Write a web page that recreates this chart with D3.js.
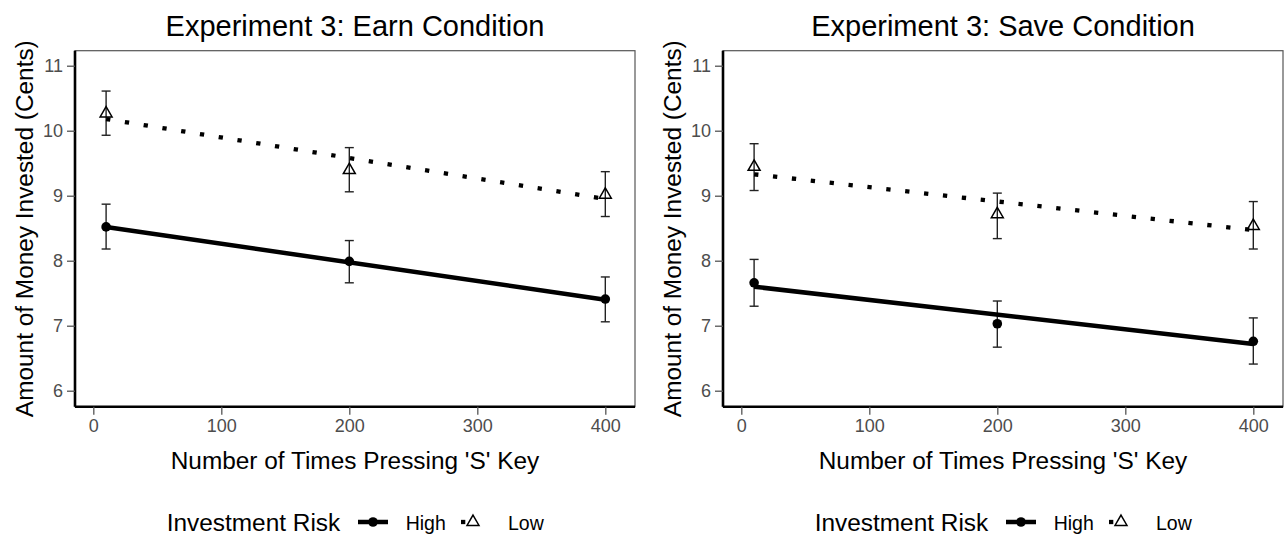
<!DOCTYPE html>
<html lang="en">
<head>
<meta charset="UTF-8">
<title>Experiment 3</title>
<script src="https://d3js.org/d3.v7.min.js"></script>
<style>
    body { margin: 0; background: #fff; }
    svg { display: block; font-family: 'Liberation Sans', Arial, sans-serif; }
    .tick text { fill: #4d4d4d; }
</style>
</head>
<body>
<svg id="chart" width="1284" height="535"></svg>
<script>
// ---- data ----
var xLevels = [10, 200, 400];
var fitX = [10, 400];
var xTicks = [0, 100, 200, 300, 400];
var yTicks = [6, 7, 8, 9, 10, 11];
var titles = ["Experiment 3: Earn Condition", "Experiment 3: Save Condition"];
var riskLevels = ["High", "Low"];

var earnHighMean = [8.52, 7.99, 7.41];
var earnHighLo   = [8.18, 7.66, 7.06];
var earnHighHi   = [8.87, 8.31, 7.75];
var earnLowMean  = [10.28, 9.41, 9.03];
var earnLowLo    = [9.93, 9.06, 8.68];
var earnLowHi    = [10.61, 9.74, 9.37];
var earnHighFit  = [8.52, 7.40];
var earnLowFit   = [10.18, 8.95];

var saveHighMean = [7.66, 7.03, 6.76];
var saveHighLo   = [7.30, 6.67, 6.41];
var saveHighHi   = [8.02, 7.38, 7.12];
var saveLowMean  = [9.46, 8.73, 8.55];
var saveLowLo    = [9.08, 8.34, 8.18];
var saveLowHi    = [9.80, 9.04, 8.91];
var saveHighFit  = [7.60, 6.72];
var saveLowFit   = [9.33, 8.47];

var panels = [
    { title: titles[0], dx: 0,
      high: { mean: earnHighMean, lo: earnHighLo, hi: earnHighHi, fit: earnHighFit },
      low:  { mean: earnLowMean,  lo: earnLowLo,  hi: earnLowHi,  fit: earnLowFit } },
    { title: titles[1], dx: 648,
      high: { mean: saveHighMean, lo: saveHighLo, hi: saveHighHi, fit: saveHighFit },
      low:  { mean: saveLowMean,  lo: saveLowLo,  hi: saveLowHi,  fit: saveLowFit } }
];

var svg = d3.select("#chart");

// panel box (pixels of the left panel, the right one is shifted)
var pLeft = 75, pRight = 635, pTop = 50.7, pBottom = 406.7;

var x = d3.scaleLinear().domain([-14.3, 423.2]).range([pLeft, pRight]);
var y = d3.scaleLinear().domain([5.754, 11.231]).range([pBottom, pTop]);

var triangle = d3.symbol().type(d3.symbolTriangle).size(62);
var dotted = "4.3,14.7";

function drawPanel(p) {
    var g = svg.append("g").attr("transform", "translate(" + p.dx + ",0)");

    // border (grey) on top/right
    g.append("rect")
        .attr("x", pLeft).attr("y", pTop)
        .attr("width", pRight - pLeft).attr("height", pBottom - pTop)
        .attr("fill", "none").attr("stroke", "#555").attr("stroke-width", 1.2);

    // axes
    var yAxis = d3.axisLeft(y).tickValues(yTicks).tickFormat(d3.format("d")).tickSize(8).tickPadding(4);
    var gy = g.append("g").attr("transform", "translate(" + pLeft + ",0)").call(yAxis);
    var xAxis = d3.axisBottom(x).tickValues(xTicks).tickFormat(d3.format("d")).tickSize(8).tickPadding(5);
    var gx = g.append("g").attr("transform", "translate(0," + pBottom + ")").call(xAxis);
    [gx, gy].forEach(function(a) {
        a.select(".domain").attr("stroke", "#000").attr("stroke-width", 2.6);
        a.selectAll(".tick line").attr("stroke", "#555").attr("stroke-width", 1.3);
        a.selectAll(".tick text").attr("font-size", "18px").attr("font-family", "'Liberation Sans', Arial, sans-serif");
    });
    gy.select(".domain").attr("d", "M0," + pBottom + "V" + pTop);
    gx.select(".domain").attr("d", "M" + pLeft + ",0H" + pRight);

    // error bars
    [p.high, p.low].forEach(function(s) {
        var eb = g.append("g").selectAll("g").data(xLevels).enter().append("g")
            .attr("stroke", "#222").attr("stroke-width", 1.4);
        eb.append("line")
            .attr("x1", function(d) { return x(d); }).attr("x2", function(d) { return x(d); })
            .attr("y1", function(d, i) { return y(s.lo[i]); })
            .attr("y2", function(d, i) { return y(s.hi[i]); });
        eb.append("line")
            .attr("x1", function(d) { return x(d) - 4.5; }).attr("x2", function(d) { return x(d) + 4.5; })
            .attr("y1", function(d, i) { return y(s.hi[i]); }).attr("y2", function(d, i) { return y(s.hi[i]); });
        eb.append("line")
            .attr("x1", function(d) { return x(d) - 4.5; }).attr("x2", function(d) { return x(d) + 4.5; })
            .attr("y1", function(d, i) { return y(s.lo[i]); }).attr("y2", function(d, i) { return y(s.lo[i]); });
    });

    // points
    g.append("g").selectAll("circle").data(xLevels).enter().append("circle")
        .attr("cx", function(d) { return x(d); })
        .attr("cy", function(d, i) { return y(p.high.mean[i]); })
        .attr("r", 4.8).attr("fill", "#000");
    g.append("g").selectAll("path").data(xLevels).enter().append("path")
        .attr("d", triangle)
        .attr("transform", function(d, i) { return "translate(" + x(d) + "," + (y(p.low.mean[i]) + 1) + ")"; })
        .attr("fill", "none").attr("stroke", "#000").attr("stroke-width", 1.5);

    // fitted lines
    var line = d3.line().x(function(d) { return x(d[0]); }).y(function(d) { return y(d[1]); });
    g.append("path")
        .attr("d", line(d3.zip(fitX, p.high.fit)))
        .attr("stroke", "#000").attr("stroke-width", 4.5).attr("fill", "none");
    g.append("path")
        .attr("d", line(d3.zip(fitX, p.low.fit)))
        .attr("stroke", "#000").attr("stroke-width", 4.3).attr("fill", "none")
        .attr("stroke-dasharray", dotted);

    // texts
    g.append("text")
        .attr("x", (pLeft + pRight) / 2).attr("y", 36)
        .attr("text-anchor", "middle").attr("font-size", "29px").attr("fill", "#000")
        .text(p.title);
    g.append("text")
        .attr("x", (pLeft + pRight) / 2).attr("y", 469)
        .attr("text-anchor", "middle").attr("font-size", "24.4px").attr("fill", "#000")
        .text("Number of Times Pressing 'S' Key");
    g.append("text")
        .attr("transform", "translate(33," + (pTop + pBottom) / 2 + ") rotate(-90)")
        .attr("text-anchor", "middle").attr("font-size", "24.4px").attr("fill", "#000")
        .text("Amount of Money Invested (Cents)");

    // legend
    var lg = g.append("g").attr("transform", "translate(0,522)");
    lg.append("text").attr("x", 166.7).attr("y", 9).attr("font-size", "24.4px").text("Investment Risk");
    lg.append("line").attr("x1", 358).attr("x2", 388).attr("y1", 0).attr("y2", 0)
        .attr("stroke", "#000").attr("stroke-width", 4.5);
    lg.append("circle").attr("cx", 373).attr("cy", 0).attr("r", 4.8).attr("fill", "#000");
    lg.append("text").attr("x", 405.7).attr("y", 8).attr("font-size", "19.5px").text(riskLevels[0]);
    lg.append("line").attr("x1", 461).attr("x2", 478).attr("y1", 0).attr("y2", 0)
        .attr("stroke", "#000").attr("stroke-width", 4.3).attr("stroke-dasharray", dotted);
    lg.append("path").attr("d", triangle).attr("transform", "translate(473,0)")
        .attr("fill", "none").attr("stroke", "#000").attr("stroke-width", 1.5);
    lg.append("text").attr("x", 508).attr("y", 8).attr("font-size", "19.5px").text(riskLevels[1]);
}

panels.forEach(drawPanel);
</script>
</body>
</html>
